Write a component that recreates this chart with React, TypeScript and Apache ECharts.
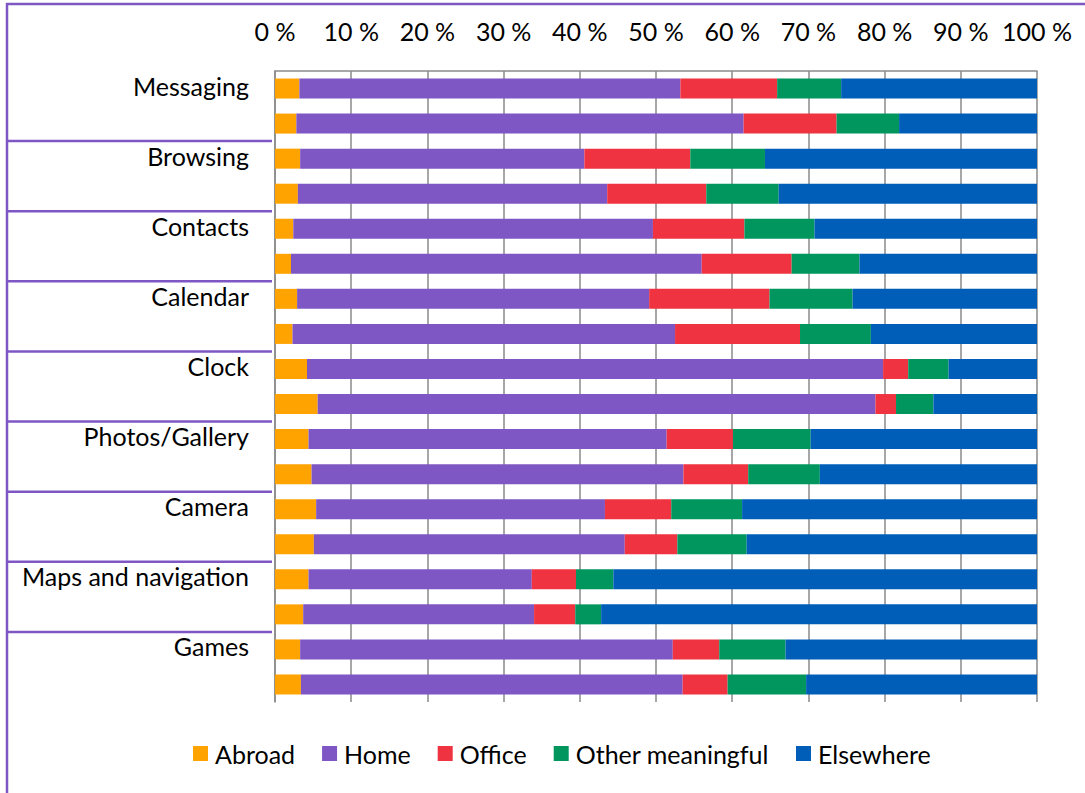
import React, { useEffect, useRef } from "react";
import * as echarts from "echarts";

// Application categories; each one has two bars (two survey groups)
const categories = [
  "Messaging",
  "Browsing",
  "Contacts",
  "Calendar",
  "Clock",
  "Photos/Gallery",
  "Camera",
  "Maps and navigation",
  "Games",
];

const seriesNames = ["Abroad", "Home", "Office", "Other meaningful", "Elsewhere"];

// Share of use by location, in percent, two rows per category
const abroad = [3.2, 2.8, 3.3, 3.0, 2.4, 2.1, 2.9, 2.3, 4.2, 5.6, 4.4, 4.8, 5.4, 5.1, 4.4, 3.7, 3.3, 3.4];
const home = [50.0, 58.7, 37.3, 40.6, 47.2, 53.9, 46.2, 50.2, 75.6, 73.2, 47.0, 48.8, 37.9, 40.8, 29.3, 30.3, 48.9, 50.1];
const office = [12.7, 12.2, 13.9, 13.0, 12.0, 11.8, 15.8, 16.4, 3.3, 2.7, 8.7, 8.5, 8.7, 6.9, 5.8, 5.4, 6.1, 5.9];
const otherMeaningful = [8.4, 8.2, 9.8, 9.5, 9.2, 8.9, 10.9, 9.3, 5.3, 4.9, 10.2, 9.4, 9.3, 9.1, 4.9, 3.4, 8.7, 10.3];
const elsewhere = [25.7, 18.1, 35.7, 33.9, 29.2, 23.3, 24.2, 21.8, 11.6, 13.6, 29.7, 28.5, 38.7, 38.1, 55.6, 57.2, 33.0, 30.3];

const seriesValues = [abroad, home, office, otherMeaningful, elsewhere];
const seriesColors = ["#FFA300", "#7E57C5", "#EF3340", "#00965E", "#005EB8"];

const rows = categories.flatMap((c) => [c, c]);

const FONT = "Lato, 'Open Sans', sans-serif";
const FRAME = "#7E57C5";
const GRID = "#8a8a8a";

export default function App() {
  const ref = useRef<HTMLDivElement>(null);

  useEffect(() => {
    if (!ref.current) return;
    const chart = echarts.init(ref.current, null, { renderer: "svg" });
    chart.setOption({
      animation: false,
      textStyle: { fontFamily: FONT },
      grid: { left: 275, right: 48, top: 71, bottom: 91, containLabel: false },
      xAxis: {
        type: "value",
        position: "top",
        min: 0,
        max: 100,
        interval: 10,
        axisLine: { show: true, lineStyle: { color: GRID, width: 1.5 } },
        axisTick: { show: false },
        axisLabel: {
          formatter: "{value} %",
          color: "#000",
          fontSize: 25,
          fontFamily: FONT,
          margin: 28,
        },
        splitLine: { show: true, lineStyle: { color: GRID, width: 1.5 } },
      },
      yAxis: {
        type: "category",
        inverse: true,
        data: rows,
        axisLine: { show: true, lineStyle: { color: GRID, width: 1.5 } },
        axisTick: { show: false },
        axisLabel: {
          interval: 0,
          color: "#000",
          fontSize: 25,
          fontFamily: FONT,
          margin: 26,
          formatter: (value: string, index: number) => (index % 2 === 0 ? `{n|${value}}` : ""),
          rich: {
            n: { color: "#000", fontSize: 25, fontFamily: FONT, padding: [0, 0, 6, 0] },
          },
        },
        splitLine: { show: false },
      },
      legend: {
        left: 188,
        top: 736,
        itemWidth: 15,
        itemHeight: 15,
        itemGap: 27,
        icon: "rect",
        textStyle: { color: "#000", fontSize: 25, fontFamily: FONT, padding: [0, 0, 0, 2] },
        data: seriesNames,
      },
      series: seriesNames.map((name, i) => ({
        name,
        type: "bar",
        stack: "total",
        barWidth: 20,
        itemStyle: { color: seriesColors[i] },
        emphasis: { disabled: true },
        data: seriesValues[i],
      })),
    });

    // Purple separators between category groups, placed from the category scale
    const separators: any[] = [];
    for (let i = 2; i < rows.length; i += 2) {
      const a = chart.convertToPixel({ yAxisIndex: 0 }, i - 1) as number;
      const b = chart.convertToPixel({ yAxisIndex: 0 }, i) as number;
      const y = (a + b) / 2;
      separators.push({
        type: "line",
        shape: { x1: 8, y1: y, x2: 272, y2: y },
        style: { stroke: FRAME, lineWidth: 2.5 },
      });
    }

    chart.setOption({
      graphic: {
        elements: [
          {
            type: "line",
            shape: { x1: 6, y1: 4, x2: 1085, y2: 4 },
            style: { stroke: FRAME, lineWidth: 2.5 },
          },
          {
            type: "line",
            shape: { x1: 7, y1: 3, x2: 7, y2: 793 },
            style: { stroke: FRAME, lineWidth: 2.5 },
          },
          ...separators,
        ],
      },
    });

    return () => chart.dispose();
  }, []);

  return (
    <div
      ref={ref}
      style={{ position: "fixed", left: 0, top: 0, width: 1085, height: 793, background: "#fff" }}
    />
  );
}
